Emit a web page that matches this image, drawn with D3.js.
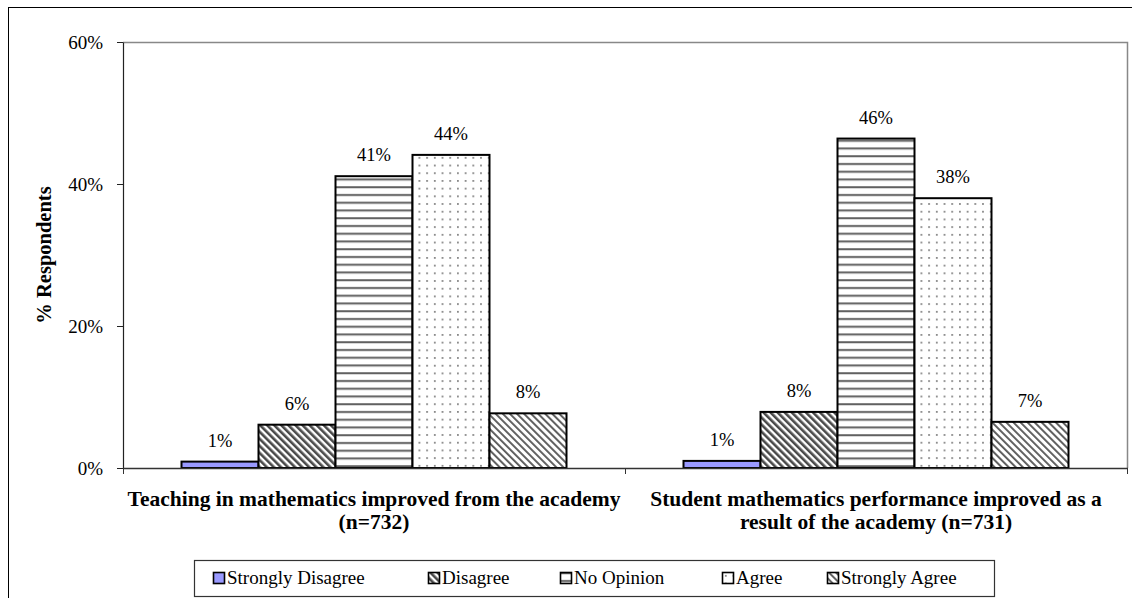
<!DOCTYPE html>
<html>
<head>
<meta charset="utf-8">
<script src="https://cdn.jsdelivr.net/npm/d3@7"></script>
<style>
  html, body { margin: 0; padding: 0; background: #fff; }
  svg { display: block; }
</style>
</head>
<body>
<svg id="chart" width="1132" height="598" font-family="'Liberation Serif', 'DejaVu Serif', serif"></svg>
<script>
// ---- data ----
const categories = [
  ["Teaching in mathematics improved from the academy", "(n=732)"],
  ["Student mathematics performance improved as a", "result of the academy (n=731)"]
];
const seriesNames = ["Strongly Disagree", "Disagree", "No Opinion", "Agree", "Strongly Agree"];
const seriesValues = [
  [0.9, 6.1, 41.1, 44.1, 7.7],
  [1.0, 7.9, 46.4, 38.0, 6.5]
];
const seriesLabels = [
  ["1%", "6%", "41%", "44%", "8%"],
  ["1%", "8%", "46%", "38%", "7%"]
];
const yTicks = [0, 20, 40, 60];
const yTitle = "% Respondents";

const FONT = "Liberation Serif";

// ---- layout ----
const svg = d3.select("#chart");
const plot = { left: 123, right: 1127, top: 42, bottom: 468 };

const defs = svg.append("defs");
// Disagree: dark downward diagonal
const pD = defs.append("pattern").attr("id", "pDis").attr("patternUnits", "userSpaceOnUse")
  .attr("width", 5).attr("height", 5).attr("patternTransform", "rotate(-45)");
pD.append("rect").attr("width", 5).attr("height", 5).attr("fill", "#fff");
pD.append("rect").attr("width", 2.6).attr("height", 5).attr("fill", "#4a4a4a");
// Strongly agree: lighter downward diagonal
const pSA = defs.append("pattern").attr("id", "pSA").attr("patternUnits", "userSpaceOnUse")
  .attr("width", 5).attr("height", 5).attr("patternTransform", "rotate(-45)");
pSA.append("rect").attr("width", 5).attr("height", 5).attr("fill", "#fff");
pSA.append("rect").attr("width", 1.9).attr("height", 5).attr("fill", "#5a5a5a");
// No opinion: horizontal lines
const pNO = defs.append("pattern").attr("id", "pNO").attr("patternUnits", "userSpaceOnUse")
  .attr("width", 8).attr("height", 7.75).attr("y", 468);
pNO.append("rect").attr("width", 8).attr("height", 7.75).attr("fill", "#fff");
pNO.append("rect").attr("y", 5).attr("width", 8).attr("height", 2).attr("fill", "#606060");
// Agree: dots
const pAg = defs.append("pattern").attr("id", "pAg").attr("patternUnits", "userSpaceOnUse")
  .attr("width", 7.7).attr("height", 7.7);
pAg.append("rect").attr("width", 7.7).attr("height", 7.7).attr("fill", "#fff");
pAg.append("rect").attr("x", 3).attr("y", 3).attr("width", 1.6).attr("height", 1.6).attr("fill", "#666");

const fills = ["#9999FF", "url(#pDis)", "url(#pNO)", "url(#pAg)", "url(#pSA)"];

// outer chart border
svg.append("rect").attr("x", 8.5).attr("y", 7.5).attr("width", 1140).attr("height", 620)
  .attr("fill", "none").attr("stroke", "#000").attr("stroke-width", 1);

// scales
const y = d3.scaleLinear().domain([0, 60]).range([plot.bottom, plot.top]);
const catIdx = categories.map((c, i) => i);
const x0 = d3.scaleBand().domain(catIdx).range([plot.left, plot.right]).padding(0);
const groupW = 385;
const off = (x0.bandwidth() - groupW) / 2;
const x1 = d3.scaleBand().domain(seriesNames).range([off, off + groupW]).padding(0);

// plot area border (top + right, gray)
svg.append("path")
  .attr("d", `M${plot.left},${plot.top + 0.5}H${plot.right + 0.5}V${plot.bottom}`)
  .attr("fill", "none").attr("stroke", "#888").attr("stroke-width", 1.5);

// bars
const rows = ci => seriesNames.map((s, si) => ({ s, si, v: seriesValues[ci][si], l: seriesLabels[ci][si] }));
const groups = svg.append("g").selectAll("g").data(catIdx).join("g")
  .attr("transform", d => `translate(${x0(d)},0)`);
groups.selectAll("rect").data(rows).join("rect")
  .attr("x", d => x1(d.s))
  .attr("y", d => y(d.v))
  .attr("width", x1.bandwidth())
  .attr("height", d => y(0) - y(d.v))
  .attr("fill", d => fills[d.si])
  .attr("stroke", "#000").attr("stroke-width", 2);
groups.selectAll("text").data(rows).join("text")
  .attr("x", d => x1(d.s) + x1.bandwidth() / 2)
  .attr("y", d => y(d.v) - 15)
  .attr("text-anchor", "middle")
  .attr("font-family", FONT).attr("font-size", 18.5)
  .text(d => d.l);

// y axis
const yAxis = svg.append("g").attr("transform", `translate(${plot.left},0)`)
  .call(d3.axisLeft(y).tickValues(yTicks).tickFormat(d => d + "%").tickSize(6).tickSizeOuter(0).tickPadding(14));
yAxis.attr("font-family", FONT).attr("font-size", 19);
yAxis.select(".domain").attr("stroke", "#222").attr("stroke-width", 1.2);
yAxis.selectAll(".tick line").attr("stroke", "#222");
yAxis.selectAll("text").attr("font-family", FONT).attr("fill", "#000");

// x axis baseline and category ticks
svg.append("line").attr("x1", plot.left).attr("x2", plot.right + 1).attr("y1", plot.bottom + 0.5).attr("y2", plot.bottom + 0.5)
  .attr("stroke", "#333").attr("stroke-width", 1.5);
const boundaries = catIdx.map(i => x0(i)).concat([x0(catIdx[catIdx.length - 1]) + x0.bandwidth()]);
svg.append("g").selectAll("line").data(boundaries).join("line")
  .attr("x1", d => d + 0.5).attr("x2", d => d + 0.5)
  .attr("y1", plot.bottom).attr("y2", plot.bottom + 6)
  .attr("stroke", "#333").attr("stroke-width", 1);

// category labels
const catLab = svg.append("g").selectAll("text").data(catIdx).join("text")
  .attr("text-anchor", "middle")
  .attr("font-family", FONT).attr("font-size", 21.5).attr("font-weight", "bold");
catLab.selectAll("tspan").data(i => categories[i].map((t, k) => ({ t, k, i }))).join("tspan")
  .attr("x", d => x0(d.i) + x0.bandwidth() / 2)
  .attr("y", d => 506 + d.k * 23)
  .text(d => d.t);

// y title
svg.append("text").attr("transform", `translate(51,${(plot.top + plot.bottom) / 2}) rotate(-90)`)
  .attr("text-anchor", "middle").attr("font-family", FONT).attr("font-size", 20.5).attr("font-weight", "bold")
  .text(yTitle);

// legend
const legend = svg.append("g");
legend.append("rect").attr("x", 194.5).attr("y", 560.5).attr("width", 800).attr("height", 36)
  .attr("fill", "#fff").attr("stroke", "#333").attr("stroke-width", 1.2);
const legendX = [213, 428, 560, 722, 827];
const items = legend.selectAll("g").data(seriesNames).join("g")
  .attr("transform", (d, i) => `translate(${legendX[i]},572)`);
items.append("rect").attr("x", 0.5).attr("y", 0.5).attr("width", 11).attr("height", 11)
  .attr("fill", (d, i) => fills[i]).attr("stroke", "#000").attr("stroke-width", 1.6);
items.append("text").attr("x", 14).attr("y", 12).attr("font-family", FONT).attr("font-size", 19).text(d => d);
</script>
</body>
</html>
